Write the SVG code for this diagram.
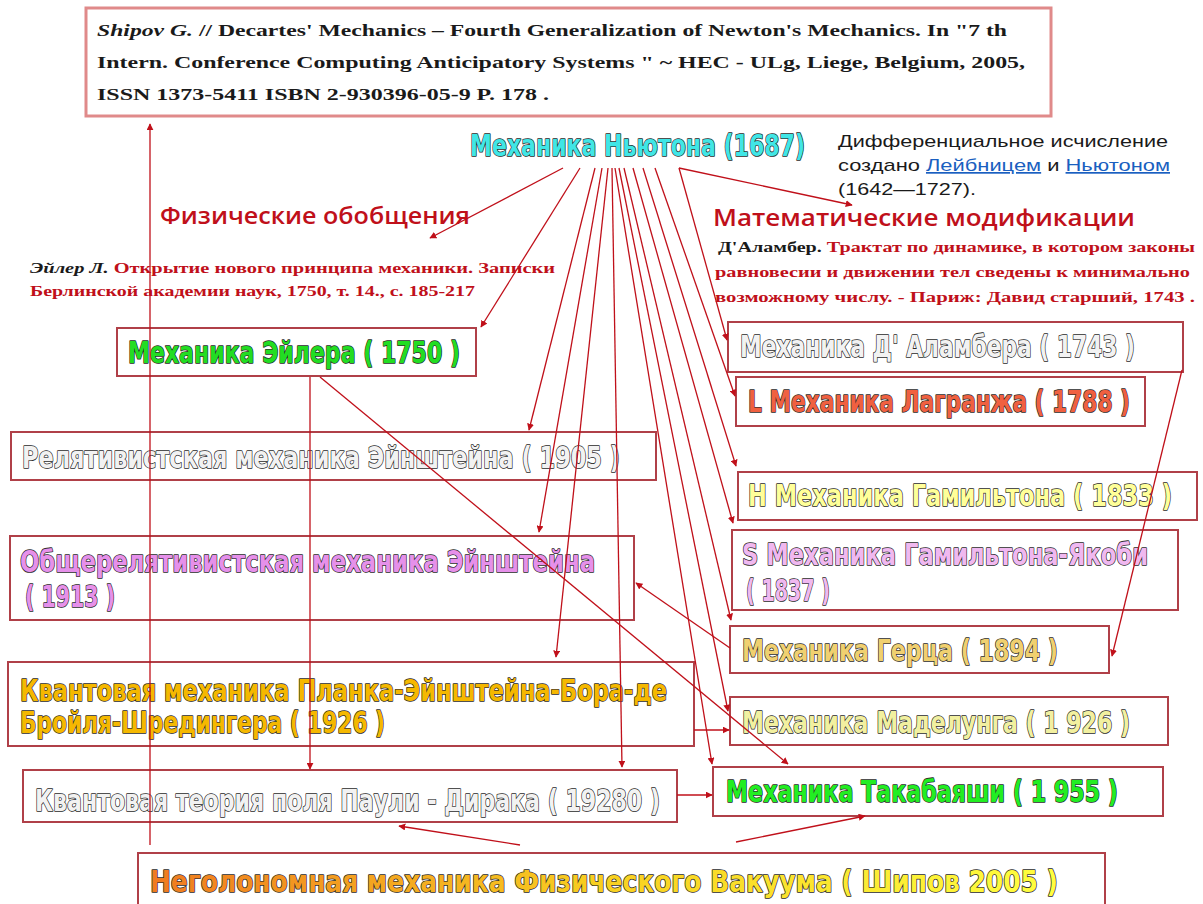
<svg xmlns="http://www.w3.org/2000/svg" width="1203" height="904" viewBox="0 0 1203 904">
<defs>
<marker id="ah" viewBox="0 0 10 10" refX="9" refY="5" markerWidth="7" markerHeight="7" markerUnits="userSpaceOnUse" orient="auto">
<path d="M0,0 L10,5 L0,10 z" fill="#c0101a"/>
</marker>
<linearGradient id="gb" x1="0" y1="0" x2="1" y2="0">
<stop offset="0" stop-color="#f07a20"/>
<stop offset="0.5" stop-color="#f8d020"/>
<stop offset="1" stop-color="#ffff40"/>
</linearGradient>
</defs>
<style>
.box{fill:#fff;stroke:#b04048;stroke-width:2}
.ttl{font-family:"Liberation Sans Narrow","DejaVu Sans Condensed","Liberation Sans",sans-serif;font-weight:bold;font-size:31px;stroke:#2a2a2a;stroke-width:1.6;paint-order:stroke;stroke-linejoin:round}
.ref{font-family:"Liberation Serif",serif;font-weight:bold;font-size:17px;fill:#1a1a1a}
.cit{font-family:"Liberation Serif",serif;font-weight:bold;font-size:15px;fill:#c0101a}
.cb{font-family:"Liberation Serif",serif;font-size:15px;fill:#1a1a1a}
.lbl{font-family:"Open Sans","Noto Sans",sans-serif;font-weight:600;font-size:24px;fill:#c0101a}
.note{font-family:"Liberation Sans",sans-serif;font-size:17px;fill:#1a1a1a}
.lnk{fill:#1a5fc0;text-decoration:underline}
.con line,.con path{stroke:#c0101a;stroke-width:1.3;fill:none}
</style>

<g id="reference">
<rect x="86" y="8" width="965" height="108" fill="#fff" stroke="#e08a8a" stroke-width="3"/>
<text class="ref" x="97" y="36" textLength="910" lengthAdjust="spacingAndGlyphs"><tspan font-style="italic">Shipov G.</tspan> // Decartes' Mechanics – Fourth Generalization of Newton's  Mechanics. In "7 th</text>
<text class="ref" x="97" y="68" textLength="928" lengthAdjust="spacingAndGlyphs">Intern. Conference Computing Anticipatory Systems "   ~ HEC - ULg, Liege, Belgium, 2005,</text>
<text class="ref" x="97" y="100" textLength="452" lengthAdjust="spacingAndGlyphs">ISSN 1373-5411 ISBN 2-930396-05-9  P. 178 .</text>
</g>

<g id="newton">
<text class="ttl" x="470" y="156" fill="#40e6e6" textLength="335" lengthAdjust="spacingAndGlyphs">Механика Ньютона (1687)</text>
</g>

<g id="calculus-note">
<text class="note" x="838" y="147" textLength="330" lengthAdjust="spacingAndGlyphs">Дифференциальное исчисление</text>
<text class="note" x="838" y="171" textLength="332" lengthAdjust="spacingAndGlyphs">создано <tspan class="lnk">Лейбницем</tspan> и <tspan class="lnk">Ньютоном</tspan></text>
<text class="note" x="838" y="195" textLength="138" lengthAdjust="spacingAndGlyphs">(1642—1727).</text>
</g>

<g id="label-physical">
<text class="lbl" x="160" y="224" textLength="310" lengthAdjust="spacingAndGlyphs">Физические обобщения</text>
</g>
<g id="label-math">
<text class="lbl" x="713" y="226" textLength="422" lengthAdjust="spacingAndGlyphs">Математические  модификации</text>
</g>

<g id="euler-citation">
<text x="30" y="273" textLength="525" lengthAdjust="spacingAndGlyphs"><tspan class="cb" font-style="italic" font-weight="bold">Эйлер Л.</tspan><tspan class="cit">   Открытие нового принципа  механики. Записки</tspan></text>
<text class="cit" x="30" y="296" textLength="445" lengthAdjust="spacingAndGlyphs">Берлинской академии наук, 1750, т. 14., с. 185-217</text>
</g>

<g id="dalembert-citation">
<text x="718" y="252" textLength="477" lengthAdjust="spacingAndGlyphs"><tspan class="cb" font-weight="bold">Д'Аламбер.</tspan><tspan class="cit"> Трактат  по динамике, в котором законы</tspan></text>
<text class="cit" x="715" y="277" textLength="475" lengthAdjust="spacingAndGlyphs">равновесии и движении тел сведены к минимально</text>
<text class="cit" x="715" y="302" textLength="480" lengthAdjust="spacingAndGlyphs">возможному числу. - Париж:  Давид старший,  1743 .</text>
</g>

<g id="euler">
<rect class="box" x="117" y="328" width="359" height="48"/>
<text class="ttl" x="128" y="363" fill="#22dd22" textLength="332" lengthAdjust="spacingAndGlyphs">Механика  Эйлера  ( 1750 )</text>
</g>

<g id="einstein-sr">
<rect class="box" x="11" y="432" width="645" height="48"/>
<text class="ttl" x="22" y="468" fill="#f2f2f2" textLength="598" lengthAdjust="spacingAndGlyphs">Релятивистская  механика Эйнштейна ( 1905 )</text>
</g>

<g id="einstein-gr">
<rect class="box" x="10" y="536" width="624" height="84"/>
<text class="ttl" x="20" y="572" fill="#e690ea" textLength="575" lengthAdjust="spacingAndGlyphs">Общерелятивистская  механика  Эйнштейна</text>
<text class="ttl" x="25" y="607" fill="#e690ea" textLength="90" lengthAdjust="spacingAndGlyphs">( 1913 )</text>
</g>

<g id="quantum">
<rect class="box" x="8" y="662" width="686" height="84"/>
<text class="ttl" x="20" y="701" fill="#f5b800" textLength="647" lengthAdjust="spacingAndGlyphs">Квантовая  механика Планка-Эйнштейна-Бора-де</text>
<text class="ttl" x="20" y="733" fill="#f5b800" textLength="365" lengthAdjust="spacingAndGlyphs">Бройля-Шредингера  ( 1926 )</text>
</g>

<g id="qft">
<rect class="box" x="23" y="770" width="654" height="52"/>
<text class="ttl" x="35" y="811" fill="#f2f2f2" textLength="625" lengthAdjust="spacingAndGlyphs">Квантовая  теория поля  Паули - Дирака  ( 19280 )</text>
</g>

<g id="shipov">
<rect class="box" x="138" y="853" width="967" height="62"/>
<text class="ttl" x="150" y="892" fill="url(#gb)" textLength="908" lengthAdjust="spacingAndGlyphs">Неголономная  механика Физического Вакуума ( Шипов 2005 )</text>
</g>

<g id="dalembert">
<rect class="box" x="728" y="322" width="455" height="50"/>
<text class="ttl" x="740" y="357" fill="#f2f2f2" textLength="395" lengthAdjust="spacingAndGlyphs">Механика  Д' Аламбера  ( 1743 )</text>
</g>

<g id="lagrange">
<rect class="box" x="736" y="377" width="409" height="49"/>
<text class="ttl" x="748" y="412" fill="#f06040" textLength="382" lengthAdjust="spacingAndGlyphs">L Механика  Лагранжа  ( 1788 )</text>
</g>

<g id="hamilton">
<rect class="box" x="738" y="472" width="459" height="48"/>
<text class="ttl" x="748" y="506" fill="#ffff99" textLength="424" lengthAdjust="spacingAndGlyphs">H Механика  Гамильтона  ( 1833 )</text>
</g>

<g id="hamilton-jacobi">
<rect class="box" x="732" y="530" width="446" height="80"/>
<text class="ttl" x="742" y="565" fill="#f0b8f0" textLength="406" lengthAdjust="spacingAndGlyphs">S Механика  Гамильтона-Якоби</text>
<text class="ttl" x="746" y="601" fill="#f0b8f0" textLength="84" lengthAdjust="spacingAndGlyphs">( 1837 )</text>
</g>

<g id="hertz">
<rect class="box" x="730" y="626" width="379" height="47"/>
<text class="ttl" x="742" y="661" fill="#f0d070" textLength="316" lengthAdjust="spacingAndGlyphs">Механика  Герца  ( 1894 )</text>
</g>

<g id="madelung">
<rect class="box" x="730" y="697" width="438" height="48"/>
<text class="ttl" x="742" y="733" fill="#f2f0a0" textLength="388" lengthAdjust="spacingAndGlyphs">Механика  Маделунга  ( 1 926 )</text>
</g>

<g id="takabayashi">
<rect class="box" x="713" y="767" width="450" height="49"/>
<text class="ttl" x="726" y="802" fill="#22ee22" textLength="392" lengthAdjust="spacingAndGlyphs">Механика  Такабаяши  ( 1 955 )</text>
</g>

<g id="connectors" class="con">
<line x1="563" y1="168" x2="430" y2="238" marker-end="url(#ah)"/>
<line x1="580" y1="168" x2="481" y2="327" marker-end="url(#ah)"/>
<line x1="595" y1="168" x2="529" y2="430" marker-end="url(#ah)"/>
<line x1="602" y1="168" x2="539" y2="532" marker-end="url(#ah)"/>
<line x1="608" y1="168" x2="556" y2="657" marker-end="url(#ah)"/>
<line x1="612" y1="168" x2="622" y2="767" marker-end="url(#ah)"/>
<line x1="615" y1="168" x2="712" y2="764" marker-end="url(#ah)"/>
<line x1="619" y1="168" x2="728" y2="711" marker-end="url(#ah)"/>
<line x1="624" y1="168" x2="731" y2="620" marker-end="url(#ah)"/>
<line x1="633" y1="168" x2="733" y2="523" marker-end="url(#ah)"/>
<line x1="643" y1="168" x2="736" y2="466" marker-end="url(#ah)"/>
<line x1="655" y1="168" x2="735" y2="396" marker-end="url(#ah)"/>
<line x1="679" y1="168" x2="727" y2="340" marker-end="url(#ah)"/>
<line x1="679" y1="168" x2="852" y2="205" marker-end="url(#ah)"/>
<line x1="1182" y1="370" x2="1112" y2="656" marker-end="url(#ah)"/>
<line x1="730" y1="648" x2="636" y2="583" marker-end="url(#ah)"/>
<line x1="320" y1="377" x2="788" y2="764" marker-end="url(#ah)"/>
<line x1="310" y1="377" x2="310" y2="769" marker-end="url(#ah)"/>
<line x1="150" y1="845" x2="150" y2="124" marker-end="url(#ah)"/>
<line x1="694" y1="730" x2="729" y2="730" marker-end="url(#ah)"/>
<line x1="677" y1="795" x2="712" y2="795" marker-end="url(#ah)"/>
<line x1="520" y1="845" x2="399" y2="826" marker-end="url(#ah)"/>
<line x1="736" y1="842" x2="865" y2="816" marker-end="url(#ah)"/>
</g>
</svg>
